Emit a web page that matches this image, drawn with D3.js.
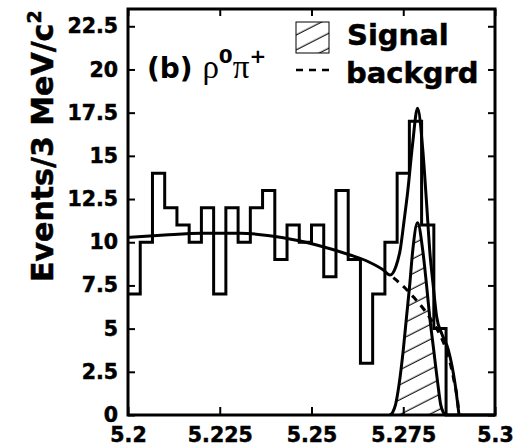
<!DOCTYPE html>
<html lang="en">
<head>
  <meta charset="UTF-8">
  <title>B to rho0 pi+ mass fit</title>
  <style>
    body {
      margin: 0;
      padding: 0;
      background-color: #fff;
    }

    svg text {
      font-family: "DejaVu Sans", sans-serif;
      font-weight: bold;
      fill: #000;
    }

    .axis text {
      font-size: 20.5px;
      stroke: #000;
      stroke-width: 0.5px;
    }

    .axis line {
      stroke: #000;
      stroke-width: 2px;
    }

    .hist, .curve {
      fill: none;
      stroke: #000;
      stroke-width: 3px;
    }

    .bkg {
      fill: none;
      stroke: #000;
      stroke-width: 3px;
      stroke-dasharray: 7, 6;
    }
  </style>
</head>
<body>
  <div class="chart"></div>

  <script src="https://d3js.org/d3.v7.min.js"></script>
  <script>
    // histogram: 30 bins from 5.2 to 5.3 GeV
    const massLo = 5.2, massHi = 5.3;
    const counts = [7, 10, 14, 12, 11, 10, 12, 7, 12, 10,
                    12, 13, 9, 11, 10, 11, 8, 13, 9, 3,
                    7, 10, 14, 17, 11, 5, 0, 0, 0, 0];

    // background (ARGUS-like)
    const bkgMass = [5.200, 5.210, 5.220, 5.2305, 5.2423, 5.2514, 5.2605, 5.2655, 5.2696,
                     5.2723, 5.2755, 5.2777, 5.2805, 5.2828, 5.2850, 5.2865, 5.2878, 5.2890, 5.2897, 5.2902];
    const bkgVal  = [10.28, 10.42, 10.52, 10.52, 10.26, 9.84, 9.26, 8.87, 8.39,
                     7.95, 7.35, 6.85, 6.15, 5.45, 4.65, 3.9, 3.0, 1.8, 1.0, 0];

    // signal gaussian
    const sigMass = [5.2713, 5.2721, 5.2729, 5.2739, 5.2750, 5.2759, 5.2768, 5.2776, 5.2789,
                     5.2803, 5.2813, 5.2822, 5.2833, 5.2844, 5.2852, 5.2859, 5.2866];
    const sigVal  = [0, 0.15, 0.6, 1.83, 3.76, 5.69, 7.62, 9.55, 11.13,
                     9.55, 7.62, 5.69, 3.76, 1.83, 0.6, 0.15, 0];

    // total fit (signal + background)
    const totMass = [5.200, 5.210, 5.220, 5.2305, 5.2423, 5.2514, 5.2605, 5.2655, 5.2696,
                     5.2714, 5.2730, 5.2742, 5.2752, 5.2762, 5.2775, 5.2789, 5.2803, 5.2813,
                     5.2823, 5.2831, 5.2841, 5.2855, 5.2873, 5.2891, 5.2902];
    const totVal  = [10.28, 10.42, 10.52, 10.52, 10.26, 9.84, 9.26, 8.87, 8.39,
                     8.10, 8.60, 9.6, 11.2, 12.9, 15.6, 17.75, 15.4, 12.44,
                     9.3, 7.62, 5.69, 4.7, 3.76, 1.83, 0];

    const xTicks = [5.2, 5.225, 5.25, 5.275, 5.3];
    const xTickLabels = ["5.2", "5.225", "5.25", "5.275", "5.3"];
    const yTicks = [0, 2.5, 5, 7.5, 10, 12.5, 15, 17.5, 20, 22.5];
    const yTickLabels = ["0", "2.5", "5", "7.5", "10", "12.5", "15", "17.5", "20", "22.5"];

    const margin = { top: 9, right: 21, bottom: 29, left: 128 };
    const width = 516 - margin.left - margin.right;
    const height = 444 - margin.top - margin.bottom;

    const root = d3.select(".chart")
      .append("svg")
        .attr("width", 516)
        .attr("height", 444);

    const defs = root.append("defs");
    const hatch = defs.append("pattern")
      .attr("id", "hatch")
      .attr("patternUnits", "userSpaceOnUse")
      .attr("width", 10)
      .attr("height", 13.3)
      .attr("patternTransform", "rotate(-27)");
    hatch.append("line")
      .attr("x1", -1).attr("x2", 11)
      .attr("y1", 6).attr("y2", 6)
      .attr("stroke", "#000")
      .attr("stroke-width", 1.1);

    const svg = root.append("g")
      .attr("transform", `translate(${margin.left},${margin.top})`);

    // Scales
    const x = d3.scaleLinear().domain([massLo, massHi]).range([0, width]);
    const y = d3.scaleLinear().domain([0, 23.5]).range([height, 0]);

    // signal hatched area
    const sigData = sigMass.map((m, i) => ({ m: m, v: sigVal[i] }));
    svg.append("path")
      .datum(sigData)
      .attr("fill", "url(#hatch)")
      .attr("d", d3.area()
        .x(d => x(d.m))
        .y0(y(0))
        .y1(d => y(d.v))
        .curve(d3.curveMonotoneX));

    // histogram outline
    const binW = (massHi - massLo) / counts.length;
    const histData = counts.map((c, i) => ({ m: massLo + i * binW, v: c }));
    histData.push({ m: massHi, v: counts[counts.length - 1] });
    svg.append("path")
      .datum(histData)
      .attr("class", "hist")
      .attr("d", d3.line().x(d => x(d.m)).y(d => y(d.v)).curve(d3.curveStepAfter));

    // background (dashed)
    const bkgData = bkgMass.map((m, i) => ({ m: m, v: bkgVal[i] }));
    svg.append("path")
      .datum(bkgData.filter(d => d.m >= 5.2714))
      .attr("class", "bkg")
      .attr("d", d3.line().x(d => x(d.m)).y(d => y(d.v)).curve(d3.curveMonotoneX));

    // signal outline
    svg.append("path")
      .datum(sigData)
      .attr("class", "curve")
      .attr("d", d3.line().x(d => x(d.m)).y(d => y(d.v)).curve(d3.curveMonotoneX));

    // total fit
    const totData = totMass.map((m, i) => ({ m: m, v: totVal[i] }));
    svg.append("path")
      .datum(totData)
      .attr("class", "curve")
      .attr("d", d3.line().x(d => x(d.m)).y(d => y(d.v)).curve(d3.curveMonotoneX));

    // Axes
    svg.append("g")
      .attr("class", "axis")
      .attr("transform", `translate(0,${height})`)
      .call(d3.axisBottom(x).tickValues(xTicks).tickSize(-8).tickPadding(12)
        .tickFormat((d, i) => xTickLabels[i]))
      .call(g => g.select(".domain").remove());

    svg.append("g")
      .attr("class", "axis")
      .call(d3.axisLeft(y).tickValues(yTicks).tickSize(-7).tickPadding(10)
        .tickFormat((d, i) => yTickLabels[i]))
      .call(g => g.select(".domain").remove());

    svg.append("g")
      .attr("class", "axis")
      .call(d3.axisTop(x).tickValues(xTicks).tickSize(-7).tickFormat(""))
      .call(g => g.select(".domain").remove());

    svg.append("g")
      .attr("class", "axis")
      .attr("transform", `translate(${width},0)`)
      .call(d3.axisRight(y).tickValues(yTicks).tickSize(-7).tickFormat(""))
      .call(g => g.select(".domain").remove());

    // frame
    svg.append("rect")
      .attr("width", width)
      .attr("height", height)
      .attr("fill", "none")
      .attr("stroke", "#000")
      .attr("stroke-width", 3);

    // Y Axis Label
    const ylab = root.append("text")
      .attr("transform", "translate(53,282) rotate(-90)")
      .style("font-size", "30px")
      .style("stroke", "#000")
      .style("stroke-width", "0.5px");
    ylab.append("tspan").text("Events/3 MeV/c");
    ylab.append("tspan").attr("dy", -12).style("font-size", "19px").text("2");

    // panel label
    const lab = root.append("text")
      .attr("x", 147)
      .attr("y", 78)
      .style("font-size", "28px");
    lab.append("tspan").text("(b) ");
    lab.append("tspan").style("font-family", "Liberation Serif").style("font-weight", "normal")
      .style("font-size", "33px").text("ρ");
    lab.append("tspan").attr("dy", -15).style("font-size", "20px").text("0");
    lab.append("tspan").attr("dy", 15).style("font-family", "Liberation Serif").style("font-weight", "normal")
      .style("font-size", "33px").text("π");
    lab.append("tspan").attr("dy", -15).style("font-size", "20px").text("+");

    // Legend
    root.append("rect")
      .attr("x", 296).attr("y", 22)
      .attr("width", 33).attr("height", 31)
      .attr("fill", "url(#hatch)")
      .attr("stroke", "#000")
      .attr("stroke-width", 1);
    root.append("text")
      .attr("x", 347).attr("y", 45)
      .style("font-size", "29px")
      .style("stroke", "#000")
      .style("stroke-width", "0.5px")
      .text("Signal");
    root.append("line")
      .attr("class", "bkg")
      .attr("x1", 296).attr("x2", 330)
      .attr("y1", 70).attr("y2", 70)
      .style("stroke-width", 2.5);
    root.append("text")
      .attr("x", 346).attr("y", 83)
      .style("font-size", "29px")
      .style("stroke", "#000")
      .style("stroke-width", "0.5px")
      .text("backgrd");
  </script>
</body>
</html>
